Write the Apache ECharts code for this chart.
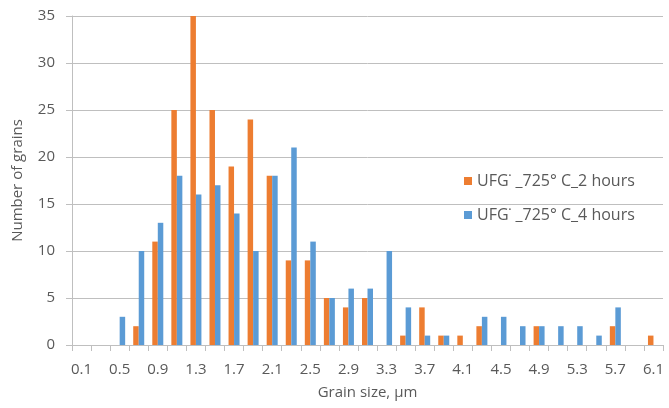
<!DOCTYPE html>
<html>
<head>
<meta charset="utf-8">
<script src="https://cdn.jsdelivr.net/npm/echarts@6/dist/echarts.min.js"></script>
<style>html,body{margin:0;padding:0;background:#fff}#c{width:669px;height:408px}</style>
</head>
<body>
<div id="c"></div>
<script>
const categories = ['0.1','0.3','0.5','0.7','0.9','1.1','1.3','1.5','1.7','1.9','2.1','2.3','2.5','2.7','2.9','3.1','3.3','3.5','3.7','3.9','4.1','4.3','4.5','4.7','4.9','5.1','5.3','5.5','5.7','5.9','6.1'];
const hours2 = [0,0,0,2,11,25,35,25,19,24,18,9,9,5,4,5,0,1,4,1,1,2,0,0,2,0,0,0,2,0,1];
const hours4 = [0,0,3,10,13,18,16,17,14,10,18,21,11,5,6,6,10,4,1,1,0,3,3,2,2,2,2,1,4,0,0];
const seriesNames = ['UFG\u02D9 _725\u00B0 C_2 hours', 'UFG\u02D9 _725\u00B0 C_4 hours'];
const yTicks = {min: 0, max: 35, interval: 5};

const font = '"Open Sans", "Liberation Sans", sans-serif';
const txt = '#595959';
const chart = echarts.init(document.getElementById('c'));
chart.setOption({
  animation: false,
  textStyle: {fontFamily: font},
  grid: {left: 72, right: 6, top: 16, bottom: 63, containLabel: false},
  legend: {
    orient: 'vertical', left: 459, top: 168, itemWidth: 8, itemHeight: 8, itemGap: 18,
    icon: 'rect',
    textStyle: {fontSize: 16, color: txt, fontFamily: font},
    data: seriesNames
  },
  xAxis: {
    type: 'category', data: categories,
    name: 'Grain size, \u00B5m', nameLocation: 'middle', nameGap: 40,
    nameTextStyle: {fontSize: 15, color: txt, fontFamily: font},
    axisLine: {lineStyle: {color: '#bfbfbf', width: 1}},
    axisTick: {show: true, interval: 0, length: 6, lineStyle: {color: '#bfbfbf'}},
    axisLabel: {interval: 1, fontSize: 15, color: txt, margin: 17, fontFamily: font},
    splitLine: {show: false}
  },
  yAxis: {
    type: 'value', min: yTicks.min, max: yTicks.max, interval: yTicks.interval,
    name: 'Number of grains', nameLocation: 'middle', nameGap: 47,
    nameTextStyle: {fontSize: 15, color: txt, fontFamily: font},
    axisLine: {show: true, lineStyle: {color: '#bfbfbf', width: 1}},
    axisTick: {show: true, length: 6, lineStyle: {color: '#bfbfbf'}},
    axisLabel: {fontSize: 15, color: txt, margin: 17, fontFamily: font},
    splitLine: {lineStyle: {color: '#bfbfbf', width: 1}}
  },
  series: [
    {name: seriesNames[0], type: 'bar', data: hours2, barWidth: 5.5, barGap: '0%', itemStyle: {color: '#ED7D31'}},
    {name: seriesNames[1], type: 'bar', data: hours4, barWidth: 5.5, barGap: '0%', itemStyle: {color: '#5B9BD5'}}
  ]
});
</script>
</body>
</html>
